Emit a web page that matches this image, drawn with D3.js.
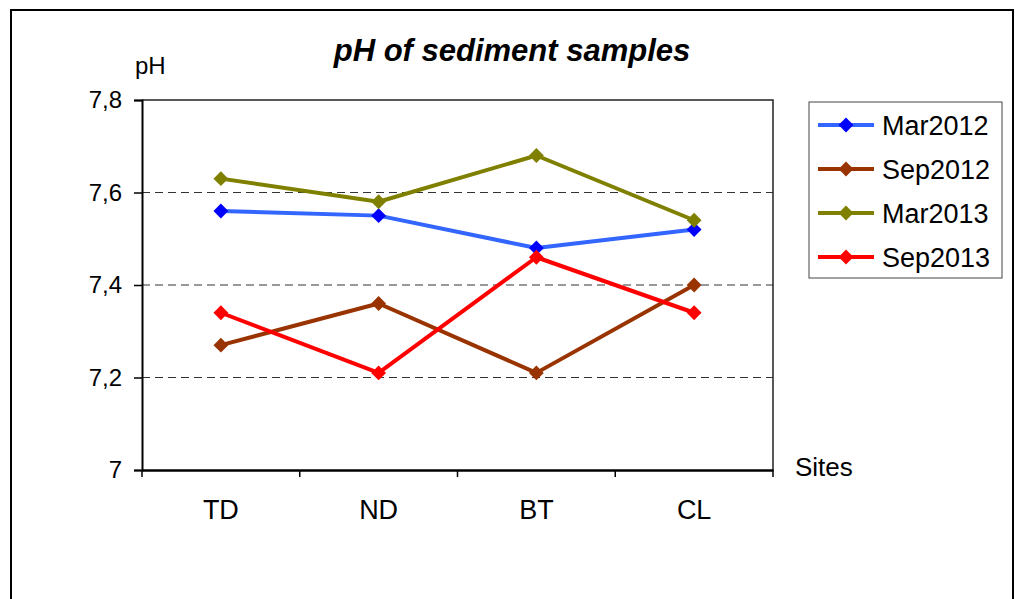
<!DOCTYPE html>
<html>
<head>
<meta charset="utf-8">
<script src="https://cdn.jsdelivr.net/npm/d3@7"></script>
<style>
  body { margin: 0; background: #fff; }
  text { font-family: "Liberation Sans", Arial, sans-serif; }
</style>
</head>
<body>
<svg id="chart"></svg>
<script>
// data
const sites = ['TD', 'ND', 'BT', 'CL'];
const seriesNames = ['Mar2012', 'Sep2012', 'Mar2013', 'Sep2013'];
const mar2012 = [7.56, 7.55, 7.48, 7.52];
const sep2012 = [7.27, 7.36, 7.21, 7.40];
const mar2013 = [7.63, 7.58, 7.68, 7.54];
const sep2013 = [7.34, 7.21, 7.46, 7.34];
const yTicks = [7, 7.2, 7.4, 7.6, 7.8];

const lineColors = ['#3366ff', '#993300', '#808000', '#ff0000'];
const markColors = ['#0000ff', '#993300', '#808000', '#ff0000'];

const W = 1015, H = 599;
const margin = { top: 100, right: 242, bottom: 129, left: 142 };

const svg = d3.select('#chart')
    .attr('width', W)
    .attr('height', H);

// outer chart frame
svg.append('rect')
    .attr('x', 11).attr('y', 10)
    .attr('width', 1002).attr('height', 620)
    .attr('fill', 'none')
    .attr('stroke', '#000')
    .attr('stroke-width', 2);

const x = d3.scaleBand()
    .domain(sites)
    .range([margin.left, W - margin.right])
    .padding(0);

const y = d3.scaleLinear()
    .domain([7, 7.8])
    .range([H - margin.bottom, margin.top]);

const fmt = d => String(+d.toFixed(1)).replace('.', ',');

// dashed gridlines
svg.append('g')
    .selectAll('line')
    .data(yTicks.filter(d => d > 7 && d < 7.8))
    .join('line')
    .attr('x1', x.range()[0])
    .attr('x2', x.range()[1])
    .attr('y1', d => y(d))
    .attr('y2', d => y(d))
    .attr('stroke', '#333')
    .attr('stroke-width', 1)
    .attr('stroke-dasharray', '8,5');

// plot area border (top + right)
svg.append('path')
    .attr('d', `M${x.range()[0]},${y(7.8)}H${x.range()[1]}V${y(7)}`)
    .attr('fill', 'none')
    .attr('stroke', '#222')
    .attr('stroke-width', 1.5);

// y axis
const yAxis = svg.append('g')
    .attr('transform', `translate(${margin.left},0)`)
    .call(d3.axisLeft(y).tickValues(yTicks).tickFormat(fmt).tickSize(8).tickPadding(12));
yAxis.select('.domain').attr('stroke', '#000').attr('stroke-width', 2);
yAxis.selectAll('.tick line').attr('stroke', '#000').attr('stroke-width', 1.5);
yAxis.selectAll('text').attr('font-size', 24).attr('fill', '#000');

// x axis (labels centred in bands)
const xAxis = svg.append('g')
    .attr('transform', `translate(0,${y(7)})`)
    .call(d3.axisBottom(x).tickSize(0).tickPadding(30).tickSizeOuter(0));
xAxis.select('.domain').attr('stroke', '#000').attr('stroke-width', 2.5);
xAxis.selectAll('text').attr('font-size', 27).attr('fill', '#000');

// x tick marks on band boundaries
const bounds = sites.map(s => x(s)).concat([x.range()[1]]);
svg.append('g')
    .selectAll('line')
    .data(bounds)
    .join('line')
    .attr('x1', d => d).attr('x2', d => d)
    .attr('y1', y(7)).attr('y2', y(7) + 7)
    .attr('stroke', '#000')
    .attr('stroke-width', 1.5);

// axis titles
svg.append('text')
    .attr('x', 135).attr('y', 74)
    .attr('font-size', 24)
    .text('pH');

svg.append('text')
    .attr('x', 795).attr('y', 476)
    .attr('font-size', 26)
    .text('Sites');

svg.append('text')
    .attr('x', 512).attr('y', 61)
    .attr('text-anchor', 'middle')
    .attr('font-size', 31)
    .attr('font-weight', 'bold')
    .attr('font-style', 'italic')
    .text('pH of sediment samples');

// series
const series = [mar2012, sep2012, mar2013, sep2013];
const cx = d => x(d) + x.bandwidth() / 2;
const line = d3.line()
    .x((d, i) => cx(sites[i]))
    .y(d => y(d));

const diamond = d3.symbol().type(d3.symbolDiamond2).size(140);

series.forEach((vals, k) => {
    svg.append('path')
        .datum(vals)
        .attr('fill', 'none')
        .attr('stroke', lineColors[k])
        .attr('stroke-width', 4)
        .attr('stroke-linejoin', 'round')
        .attr('d', line);
});

series.forEach((vals, k) => {
    svg.append('g')
        .selectAll('path')
        .data(vals)
        .join('path')
        .attr('transform', (d, i) => `translate(${cx(sites[i])},${y(d)})`)
        .attr('d', diamond)
        .attr('fill', markColors[k]);
});

// legend
const legend = svg.append('g');
legend.append('rect')
    .attr('x', 809).attr('y', 102)
    .attr('width', 193).attr('height', 176)
    .attr('fill', '#fff')
    .attr('stroke', '#444')
    .attr('stroke-width', 1);

const rowY = d3.scalePoint()
    .domain(seriesNames)
    .range([125, 257]);

seriesNames.forEach((name, k) => {
    const yy = rowY(name);
    legend.append('line')
        .attr('x1', 818).attr('x2', 874)
        .attr('y1', yy).attr('y2', yy)
        .attr('stroke', lineColors[k])
        .attr('stroke-width', 4);
    legend.append('path')
        .attr('transform', `translate(846,${yy})`)
        .attr('d', diamond)
        .attr('fill', markColors[k]);
    legend.append('text')
        .attr('x', 882).attr('y', yy)
        .attr('dy', '0.36em')
        .attr('font-size', 27)
        .text(name);
});
</script>
</body>
</html>
